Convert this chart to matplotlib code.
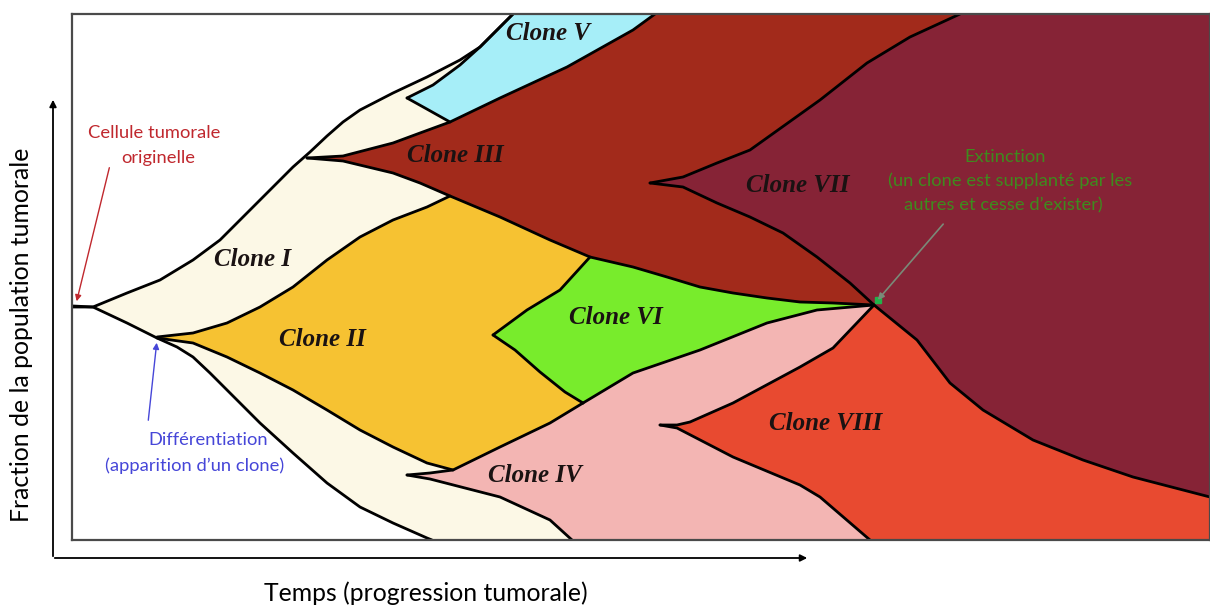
import matplotlib.pyplot as plt
from matplotlib.patches import Polygon

# time runs 0..1138, population size 0..526 (box units)
T_MAX, F_MAX = 1138, 526

# boundary curves (time, size)
outer_top = [(1, 233), (21, 233), (55, 247), (88, 260), (121, 280), (148, 300), (168, 320),
             (188, 340), (205, 357), (221, 373), (238, 388), (255, 404), (271, 418), (288, 430),
             (321, 447), (355, 463), (388, 480), (408, 493), (425, 510), (441, 526)]
outer_bot = [(1, 234), (21, 233), (55, 217), (85, 202), (105, 193), (121, 183), (138, 167),
             (155, 150), (188, 117), (221, 87), (255, 57), (288, 33), (321, 17), (355, 2), (360, 0)]
ii_top = [(85, 203), (121, 207), (155, 217), (188, 233), (221, 253), (255, 280), (288, 303),
          (321, 320), (355, 333), (378, 344)]
ii_bot = [(85, 202), (121, 197), (155, 183), (188, 167), (221, 150), (255, 130), (288, 110),
          (321, 93), (355, 77), (381, 70)]
iii_top = [(235, 382), (271, 384), (321, 397), (348, 407), (378, 418)]
iii_bot = [(235, 382), (271, 379), (321, 367), (348, 357), (378, 344), (428, 323), (478, 300),
           (518, 283), (561, 273), (595, 263), (628, 253), (661, 247), (695, 242), (728, 238),
           (761, 237), (802, 235)]
v_top = [(335, 442), (361, 455), (388, 475), (408, 493), (425, 510), (441, 526)]
v_bot = [(335, 442), (353, 432), (378, 418), (428, 442), (495, 473), (561, 510), (583, 526)]
iv_top = [(335, 65), (358, 67), (381, 70), (428, 93), (478, 117), (511, 137)]
vi_iv = [(511, 137), (561, 167), (628, 190), (695, 217), (745, 230), (802, 235)]
iv_bot = [(335, 65), (358, 61), (428, 43), (478, 20), (500, 0)]
vi_top = [(421, 205), (455, 230), (488, 250), (518, 283)]
vi_bot = [(421, 205), (443, 190), (468, 168), (493, 148), (511, 137)]
vii_top = [(578, 357), (611, 363), (645, 377), (678, 390), (713, 415), (748, 440), (795, 477),
           (838, 503), (888, 526)]
vii_bot = [(578, 357), (611, 353), (645, 337), (678, 323), (711, 307), (745, 283), (778, 257),
           (802, 235)]
vii_viii = [(802, 235), (845, 200), (878, 157), (911, 130), (961, 100), (1011, 80),
            (1061, 63), (1138, 43)]
viii_top = [(588, 115), (605, 115), (618, 118), (661, 137), (728, 173), (761, 192), (802, 235)]
viii_bot = [(588, 115), (605, 112), (661, 83), (728, 55), (748, 43), (798, 0)]

clone_names = ['Clone I', 'Clone II', 'Clone III', 'Clone IV', 'Clone V', 'Clone VI',
               'Clone VII', 'Clone VIII']
clone_colors = ['#fcf8e6', '#f6c232', '#a22a1b', '#f3b5b3', '#a6eef8', '#78ec2c',
                '#862336', '#e84a30']
label_pos = [(181, 280), (250, 200), (383, 385), (463, 65), (476, 507), (544, 223),
             (726, 355), (754, 116)]


def rev(c):
    return c[::-1]


shapes = [
    outer_top + [(T_MAX, F_MAX), (T_MAX, 0)] + rev(outer_bot),
    ii_top + iii_bot[5:8] + [(511, 137)] + rev(iv_top) + rev(ii_bot),
    iii_top + v_bot[3:] + [(900, F_MAX)] + rev(iii_bot),
    iv_top + vi_iv[1:] + [(798, 0)] + rev(iv_bot),
    v_top + rev(v_bot),
    vi_top + iii_bot[8:] + rev(vi_iv) + rev(vi_bot),
    vii_top + [(T_MAX, F_MAX)] + rev(vii_viii) + rev(vii_bot),
    viii_top + vii_viii[1:] + [(T_MAX, 0), (798, 0)] + rev(viii_bot),
]
draw_order = [0, 1, 3, 2, 4, 5, 6, 7]

fig = plt.figure(figsize=(12.1, 6.06), dpi=100)
ax = fig.add_axes([72 / 1210, 66 / 606, 1138 / 1210, 526 / 606])
ax.set_xlim(0, T_MAX)
ax.set_ylim(0, F_MAX)
ax.set_xticks([])
ax.set_yticks([])
for s in ax.spines.values():
    s.set_color('#4a4a4a')
    s.set_linewidth(1.6)

for i in draw_order:
    ax.add_patch(Polygon(shapes[i], closed=True, facecolor=clone_colors[i], edgecolor='none'))

for c in [outer_top, outer_bot, ii_top, ii_bot, iii_top, iii_bot, v_top, v_bot, iv_top, vi_iv,
          iv_bot, vi_top, vi_bot, vii_top, vii_bot, vii_viii, viii_top, viii_bot]:
    xs = [p[0] for p in c]
    ys = [p[1] for p in c]
    ax.plot(xs, ys, color='black', lw=2.0, solid_joinstyle='round', solid_capstyle='round')

for name, (x, y) in zip(clone_names, label_pos):
    ax.text(x, y, name, ha='center', va='center', fontsize=18, fontstyle='italic',
            fontweight='bold', family='Liberation Serif', color='#1a1212')

sans = 'Lato'
fs = 13.2
# annotations
ax.text(82, 407, 'Cellule tumorale', ha='center', va='center', fontsize=fs,
        color='#c0282e', family=sans)
ax.text(86, 382, 'originelle', ha='center', va='center', fontsize=fs,
        color='#c0282e', family=sans)
ax.annotate('', xy=(4, 236), xytext=(38, 375),
            arrowprops=dict(arrowstyle='-|>', color='#c0282e', lw=1, mutation_scale=9))

ax.text(136, 100, 'Différentiation', ha='center', va='center', fontsize=fs,
        color='#4646d8', family=sans)
ax.text(123, 74, '(apparition d\u2019un clone)', ha='center', va='center', fontsize=fs,
        color='#4646d8', family=sans)
ax.annotate('', xy=(85, 200), xytext=(76, 117),
            arrowprops=dict(arrowstyle='-|>', color='#4646d8', lw=1, mutation_scale=9))

ax.text(933, 383, 'Extinction', ha='center', va='center', fontsize=fs,
        color='#3f8a1e', family=sans)
ax.text(938, 359, '(un clone est supplanté par les', ha='center', va='center', fontsize=fs,
        color='#3f8a1e', family=sans)
ax.text(931, 335, 'autres et cesse d\u2019exister)', ha='center', va='center', fontsize=fs,
        color='#3f8a1e', family=sans)
ax.annotate('', xy=(804, 238), xytext=(873, 318),
            arrowprops=dict(arrowstyle='-|>', color='#7a8a78', lw=1.2, mutation_scale=9))
ax.plot([806], [240], marker='s', color='#22b24a', markersize=4)

# axis arrows
ax.annotate('', xy=(53, 509), xytext=(53, 47), xycoords='figure pixels',
            textcoords='figure pixels', annotation_clip=False,
            arrowprops=dict(arrowstyle='-|>', color='black', lw=1.3, mutation_scale=10))
ax.annotate('', xy=(810, 48), xytext=(52, 48), xycoords='figure pixels',
            textcoords='figure pixels', annotation_clip=False,
            arrowprops=dict(arrowstyle='-|>', color='black', lw=1.3, mutation_scale=10))

fig.text(22 / 1210, 271 / 606, 'Fraction de la population tumorale', rotation=90,
         ha='center', va='center', fontsize=17.8, family=sans, color='black')
fig.text(426 / 1210, 13 / 606, 'Temps (progression tumorale)', ha='center', va='center',
         fontsize=17.8, family=sans, color='black')

fig.savefig('out.png', dpi=100)
